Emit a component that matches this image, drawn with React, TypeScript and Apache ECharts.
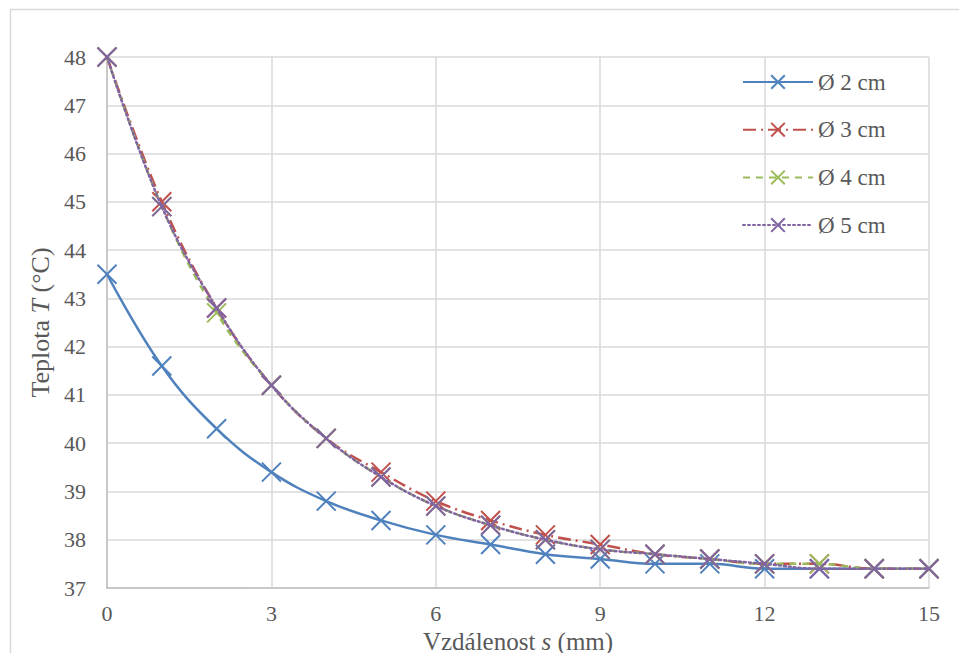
import React, { useEffect, useRef } from "react";
import * as echarts from "echarts";

const distances = [0, 1, 2, 3, 4, 5, 6, 7, 8, 9, 10, 11, 12, 13, 14, 15];
const seriesNames = ["Ø 2 cm", "Ø 3 cm", "Ø 4 cm", "Ø 5 cm"];
const temp2cm = [43.5, 41.6, 40.3, 39.4, 38.8, 38.4, 38.1, 37.9, 37.7, 37.6, 37.5, 37.5, 37.4, 37.4, 37.4, 37.4];
const temp3cm = [48.0, 45.0, 42.8, 41.2, 40.1, 39.4, 38.8, 38.4, 38.1, 37.9, 37.7, 37.6, 37.5, 37.5, 37.4, 37.4];
const temp4cm = [48.0, 44.9, 42.7, 41.2, 40.1, 39.3, 38.7, 38.3, 38.0, 37.8, 37.7, 37.6, 37.5, 37.5, 37.4, 37.4];
const temp5cm = [48.0, 44.9, 42.8, 41.2, 40.1, 39.3, 38.7, 38.3, 38.0, 37.8, 37.7, 37.6, 37.5, 37.4, 37.4, 37.4];

const FONT = "'Liberation Serif', serif";
const TEXT = "#595959";
const GRID = "#d9d9d9";
const X_SYMBOL = "path://M0,0L20,20M20,0L0,20";

const colors = ["#4f81bd", "#c0504d", "#9bbb59", "#8064a2"];
const lineTypes: any[] = ["solid", [13, 5, 2, 5], [7, 6], [2, 3]];
const allData = [temp2cm, temp3cm, temp4cm, temp5cm];

export default function App() {
  const ref = useRef<HTMLDivElement>(null);
  useEffect(() => {
    if (!ref.current) return;
    const chart = echarts.init(ref.current, undefined, { renderer: "svg" });
    const series = allData.map((vals, i) => ({
      name: seriesNames[i],
      type: "line",
      data: distances.map((d, j) => [d, vals[j]]),
      smooth: 0.4,
      symbol: X_SYMBOL,
      symbolSize: 19,
      showAllSymbol: true,
      lineStyle: {
        color: colors[i],
        width: 2.5,
        type: lineTypes[i],
        cap: i === 3 ? "round" : "butt",
      },
      itemStyle: {
        color: colors[i],
        borderColor: colors[i],
        borderWidth: 2,
      },
      z: 2 + i,
    }));
    chart.setOption({
      animation: false,
      backgroundColor: "#ffffff",
      textStyle: { fontFamily: FONT },
      graphic: [
        {
          type: "rect",
          shape: { x: 10.5, y: 9.5, width: 2000, height: 2000 },
          style: { fill: "none", stroke: GRID, lineWidth: 1.5 },
          silent: true,
        },
      ],
      grid: { left: 107, right: 30, top: 57, bottom: 65, containLabel: false, outerBoundsMode: "none" },
      legend: {
        orient: "vertical",
        left: 742,
        top: 70,
        padding: 0,
        itemWidth: 70,
        itemHeight: 17,
        itemGap: 23.7,
        data: seriesNames,
        textStyle: { fontFamily: FONT, fontSize: 23, color: TEXT, lineHeight: 24 },
      },
      xAxis: {
        type: "value",
        min: 0,
        max: 15,
        interval: 3,
        name: "Vzdálenost {i|s} (mm)",
        nameLocation: "middle",
        nameGap: 43,
        nameMoveOverlap: false,
        nameTextStyle: {
          fontFamily: FONT,
          fontSize: 25,
          lineHeight: 20,
          color: TEXT,
          rich: { i: { fontFamily: FONT, fontSize: 25, lineHeight: 20, color: TEXT, fontStyle: "italic" } },
        },
        axisLine: { show: true, lineStyle: { color: "#bfbfbf", width: 1.5 } },
        axisTick: { show: false },
        axisLabel: { fontFamily: FONT, fontSize: 22, lineHeight: 18, color: TEXT, margin: 16 },
        splitLine: { show: true, lineStyle: { color: GRID, width: 1.5 } },
      },
      yAxis: {
        type: "value",
        min: 37,
        max: 48,
        interval: 1,
        name: "Teplota {i|T} (°C)",
        nameLocation: "middle",
        nameRotate: 90,
        nameGap: 54,
        nameMoveOverlap: false,
        nameTextStyle: {
          fontFamily: FONT,
          fontSize: 26,
          color: TEXT,
          rich: { i: { fontFamily: FONT, fontSize: 26, color: TEXT, fontStyle: "italic" } },
        },
        axisLine: { show: true, lineStyle: { color: "#bfbfbf", width: 1.5 } },
        axisTick: { show: false },
        axisLabel: { fontFamily: FONT, fontSize: 22, color: TEXT, margin: 21 },
        splitLine: { show: true, lineStyle: { color: GRID, width: 1.5 } },
      },
      series,
    });
    return () => chart.dispose();
  }, []);
  return (
    <div
      ref={ref}
      style={{ position: "fixed", left: 0, top: 0, width: 959, height: 653, background: "#fff" }}
    />
  );
}
